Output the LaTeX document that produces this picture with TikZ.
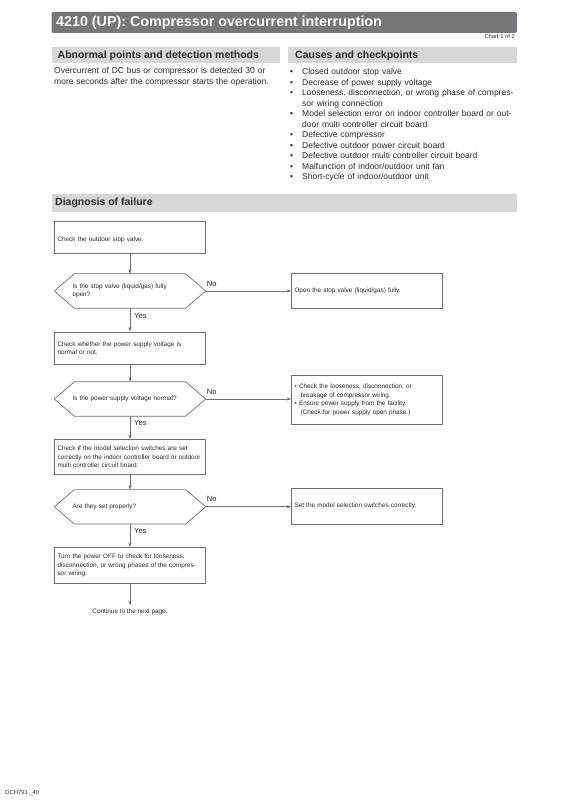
\documentclass[tikz,border=0pt]{standalone}
\usepackage{fontspec}
\setmainfont{Liberation Sans}
\usetikzlibrary{arrows.meta,calc}
\definecolor{titlegray}{HTML}{76777A}
\definecolor{headgray}{HTML}{D7D7D7}
\definecolor{txt}{HTML}{2B2B2B}
\definecolor{linegray}{HTML}{6E6E6E}
\newcommand\flowfont{\fontsize{6.4}{8.5}\selectfont}
\newcommand\bodyfont{\fontsize{8.5}{10.5}\selectfont}
\newcommand\headfont{\fontsize{10.5}{12}\selectfont\bfseries}
\newcommand\hexdraw[1]{\draw[boxline] (#1.west) -- ([xshift=20pt]#1.north west) -- ([xshift=-20pt]#1.north east) -- (#1.east) -- ([xshift=-20pt]#1.south east) -- ([xshift=20pt]#1.south west) -- cycle;}
\newcommand\itm{\hangindent=12pt\hangafter=1\makebox[12pt][l]{•}}
\tikzset{
  boxline/.style={draw=linegray, line width=0.7pt},
  stepbox/.style={boxline, minimum width=151pt, text width=145pt, inner xsep=3pt, inner ysep=2pt, align=left, font=\flowfont, text=txt},
  hexnode/.style={minimum width=151pt, text width=115pt, inner xsep=18pt, minimum height=34pt, align=left, font=\flowfont, text=txt},
  arr/.style={draw=linegray, line width=0.7pt, -{Stealth[length=4.5pt,width=3.2pt]}},
  lbl/.style={font=\fontsize{7.6}{9}\selectfont, text=txt, inner sep=1pt},
  heading/.style={font=\headfont, text=txt, inner sep=0pt, anchor=west},
}
\begin{document}
\begin{tikzpicture}[x=1pt,y=-1pt]
\useasboundingbox (0,0) rectangle (569,805);
% title
\fill[titlegray, rounded corners=2pt] (51.5,12) rectangle (517,33);
\node[anchor=west, inner sep=0pt, text=white, font=\fontsize{14.3}{16}\selectfont\bfseries] (title) at (56,22.5) {4210 (UP): Compressor overcurrent interruption};
\node[anchor=east, inner sep=0pt, text=txt, font=\fontsize{5.8}{7}\selectfont] (chart) at (515,36) {Chart 1 of 2};
% section headers
\fill[headgray] (51.5,47) rectangle (280,63);
\fill[headgray] (288,47) rectangle (517,63);
\node[heading] (h1) at (57.5,55.5) {Abnormal points and detection methods};
\node[heading] (h2) at (295,55.5) {Causes and checkpoints};
\node[anchor=north west, inner sep=0pt, text width=240pt, align=left, font=\bodyfont, text=txt] (abn) at (54,67.5)
  {Overcurrent of DC bus or compressor is detected 30 or\\more seconds after the compressor starts the operation.};
\node[anchor=north west, inner sep=0pt, text width=262pt, font=\bodyfont, text=txt] (causes) at (290,68.5)
  {\raggedright
   \itm Closed outdoor stop valve\par
   \itm Decrease of power supply voltage\par
   \itm Looseness, disconnection, or wrong phase of compres-\newline sor wiring connection\par
   \itm Model selection error on indoor controller board or out-\newline door multi controller circuit board\par
   \itm Defective compressor\par
   \itm Defective outdoor power circuit board\par
   \itm Defective outdoor multi controller circuit board\par
   \itm Malfunction of indoor/outdoor unit fan\par
   \itm Short-cycle of indoor/outdoor unit\par};
% diagnosis header
\fill[headgray] (51.5,194) rectangle (517,211.5);
\node[heading] (h3) at (55,203) {Diagnosis of failure};
% flowchart left column
\node[stepbox, minimum height=32pt] (b1) at (130,237) {\raisebox{-2.5pt}[\height][\depth]{Check the outdoor stop valve.}};
\node[hexnode] (d1) at (130,291) {Is the stop valve (liquid/gas) fully\\open?};
\node[stepbox, minimum height=32.7pt] (b2) at (130,348.3) {Check whether the power supply voltage is\\normal or not.};
\node[hexnode] (d2) at (130,399) {Is the power supply voltage normal?};
\node[stepbox, minimum height=35pt] (b4) at (130,457.2) {Check if the model selection switches are set\\correctly on the indoor controller board or outdoor\\multi controller circuit board.};
\node[hexnode] (d3) at (130,506.8) {Are they set properly?};
\node[stepbox, minimum height=36pt] (b6) at (130,565.4) {Turn the power OFF to check for looseness,\\disconnection, or wrong phases of the compres-\\sor wiring.};
\node[font=\flowfont, text=txt, inner sep=3.5pt] (cont) at (130,612) {Continue to the next page.};
\hexdraw{d1}
\hexdraw{d2}
\hexdraw{d3}
% right column
\node[stepbox, minimum height=35pt] (r1) at (367,291) {Open the stop valve (liquid/gas) fully.};
\node[stepbox, minimum height=49pt] (r3) at (367,400)
  {\hangindent=6pt\hangafter=1\makebox[4.5pt][l]{•}Check the looseness, disconnection, or\newline breakage of compressor wiring.\par
   \hangindent=6pt\hangafter=1\makebox[4.5pt][l]{•}Ensure power supply from the facility.\newline (Check for power supply open phase.)\par};
\node[stepbox, minimum height=35.2pt] (r5) at (367,506.3) {Set the model selection switches correctly.};
% connectors
\draw[arr] (b1) -- (d1);
\draw[arr] (d1) -- (b2);
\draw[arr] (b2) -- (d2);
\draw[arr] (d2) -- (b4);
\draw[arr] (b4) -- (d3);
\draw[arr] (d3) -- (b6);
\draw[arr] (b6) -- (cont);
\draw[arr] (d1.east) -- (d1.east -| r1.west);
\draw[arr] (d2.east) -- (d2.east -| r3.west);
\draw[arr] (d3.east) -- (d3.east -| r5.west);
% labels
\node[lbl, anchor=west] (no1) at ([yshift=7pt]d1.east) {No};
\node[lbl, anchor=west] (no2) at ([yshift=7.5pt]d2.east) {No};
\node[lbl, anchor=west] (no3) at ([yshift=7.5pt]d3.east) {No};
\node[lbl, anchor=west] (yes1) at ([xshift=3pt,yshift=-8pt]d1.south) {Yes};
\node[lbl, anchor=west] (yes2) at ([xshift=3pt,yshift=-7pt]d2.south) {Yes};
\node[lbl, anchor=west] (yes3) at ([xshift=3pt,yshift=-7pt]d3.south) {Yes};
% footer
\node[anchor=west, inner sep=0pt, text=txt, font=\fontsize{5.8}{7}\selectfont] (foot) at (5,792.7) {OCH791 \_40};
\end{tikzpicture}
\end{document}
